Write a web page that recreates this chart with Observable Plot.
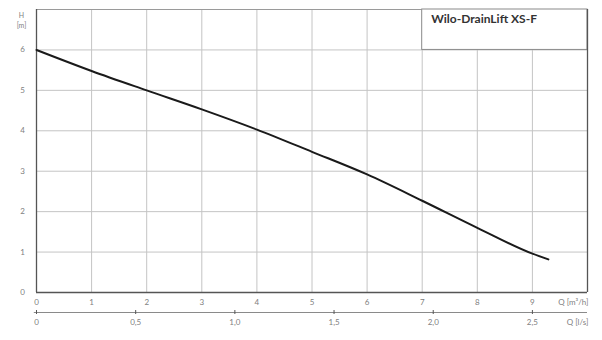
<!DOCTYPE html>
<html>
<head>
<meta charset="utf-8">
<script src="https://cdn.jsdelivr.net/npm/d3@7"></script>
<script src="https://cdn.jsdelivr.net/npm/@observablehq/plot@0.6"></script>
<style>
  html, body { margin: 0; padding: 0; background: #fff; }
  #chart svg { display: block; }
</style>
</head>
<body>
<div id="chart"></div>
<script>
// Pump curve data: flow Q [m³/h] vs head H [m]
const flowQ = [0, 1, 2, 3, 4, 5, 6, 7, 8, 9, 9.29];
const headH = [6.0, 5.48, 5.0, 4.53, 4.03, 3.48, 2.92, 2.27, 1.6, 0.96, 0.82];
// Axis ticks
const qTicks = [0, 1, 2, 3, 4, 5, 6, 7, 8, 9];
const hTicks = [0, 1, 2, 3, 4, 5, 6];
const lsTicks = [0, 0.5, 1.0, 1.5, 2.0, 2.5];
const lsLabels = ["0", "0,5", "1,0", "1,5", "2,0", "2,5"];
const title = "Wilo-DrainLift XS-F";
const M3H_PER_LS = 3.6;

const curve = flowQ.map((q, i) => ({q, h: headH[i]}));
const lsData = lsTicks.map((v, i) => ({x: v * M3H_PER_LS, label: lsLabels[i]}));

const font = "Lato, 'Open Sans', sans-serif";
const tickColor = "#808080";

const chart = Plot.plot({
  width: 602,
  height: 340,
  marginLeft: 36,
  marginRight: 15,
  marginTop: 9,
  marginBottom: 48,
  style: {fontFamily: font, background: "#fff"},
  x: {type: "linear", domain: [0, 10], axis: null},
  y: {type: "linear", domain: [0, 7], axis: null},
  marks: [
    Plot.ruleX(qTicks.filter(d => d > 0), {stroke: "#c4c4c4", strokeWidth: 1}),
    Plot.ruleY(hTicks.filter(d => d > 0), {stroke: "#c4c4c4", strokeWidth: 1}),
    Plot.ruleY([7], {stroke: "#9a9a9a", strokeWidth: 1}),
    // title box
    Plot.rect([{x1: 7, x2: 10, y1: 6, y2: 7}], {x1: "x1", x2: "x2", y1: "y1", y2: "y2", fill: "#fff", stroke: "#8a8a8a", strokeWidth: 1}),
    Plot.text([title], {x: 7, y: 7, text: d => d, dx: 9, dy: 10, textAnchor: "start", fontWeight: "bold", fontSize: 12, fill: "#333"}),
    // frame
    Plot.ruleX([0], {stroke: "#555", strokeWidth: 1.3}),
    Plot.ruleX([10], {stroke: "#555", strokeWidth: 1.3}),
    Plot.ruleY([0], {stroke: "#555", strokeWidth: 1.3}),
    // curve
    Plot.line(curve, {x: "q", y: "h", stroke: "#1a1a1a", strokeWidth: 2, curve: "monotone-x"}),
    // y tick labels
    Plot.text(hTicks, {x: 0, y: d => d, text: d => String(d), dx: -14, fontSize: 8, fill: tickColor}),
    Plot.text(["H"], {x: 0, y: 7, text: d => d, dx: -15, dy: 6, fontSize: 7, fill: tickColor}),
    Plot.text(["[m]"], {x: 0, y: 7, text: d => d, dx: -15, dy: 16, fontSize: 7, fill: tickColor}),
    // x (m³/h) tick labels
    Plot.text(qTicks, {x: d => d, y: 0, text: d => String(d), dy: 10, fontSize: 8, fill: tickColor}),
    Plot.text(["Q [m³/h]"], {x: 10, y: 0, text: d => d, dy: 10, dx: 1, textAnchor: "end", fontSize: 8, fill: tickColor}),
    // l/s secondary axis
    Plot.ruleY([0], {x1: -0.04, x2: 10, dy: 20, stroke: "#8a8a8a", strokeWidth: 1.2}),
    Plot.ruleX(lsData, {x: "x", y1: 0, y2: 0, dy: 20, insetTop: -2, insetBottom: -2, stroke: "#555", strokeWidth: 1}),
    Plot.text(lsData, {x: "x", y: 0, text: "label", dy: 30, fontSize: 8, fill: tickColor}),
    Plot.text(["Q [l/s]"], {x: 10, y: 0, text: d => d, dy: 30, dx: 1, textAnchor: "end", fontSize: 8, fill: tickColor})
  ]
});
document.getElementById("chart").appendChild(chart);
</script>
</body>
</html>
